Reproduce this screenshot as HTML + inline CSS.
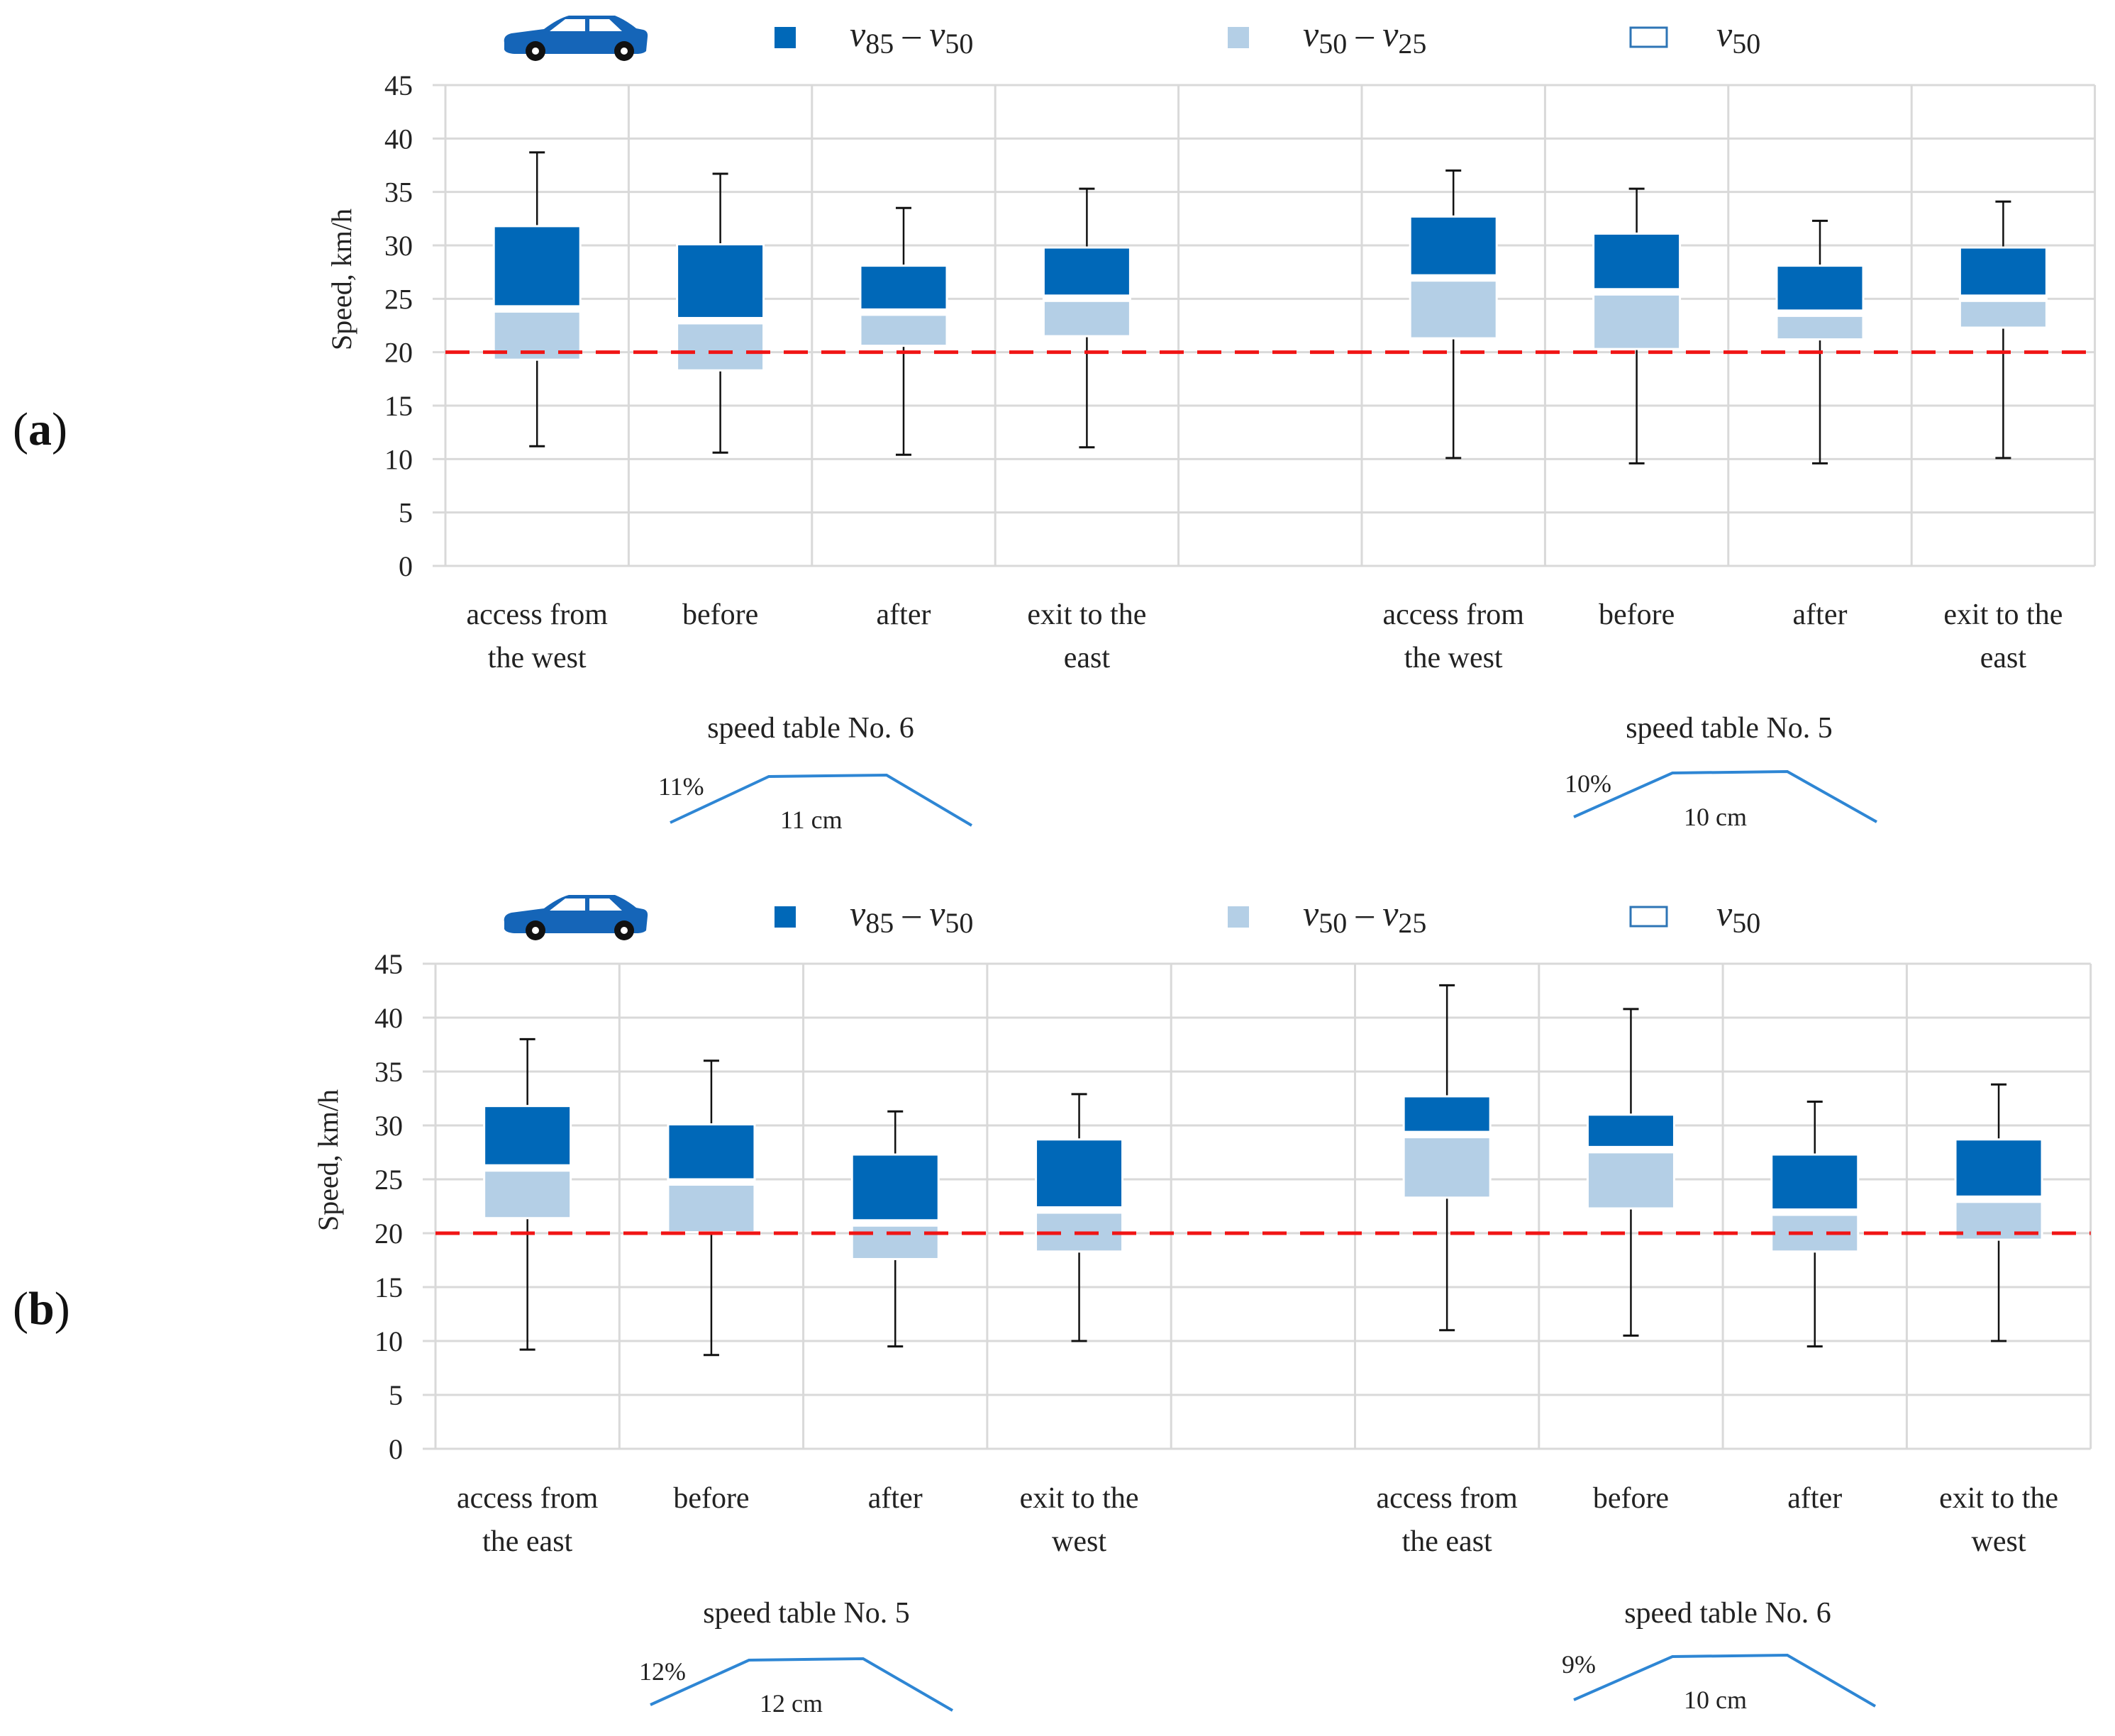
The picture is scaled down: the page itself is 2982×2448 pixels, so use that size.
<!DOCTYPE html>
<html><head><meta charset="utf-8">
<style>
html,body{margin:0;padding:0;background:#fff;}
svg{display:block;font-family:"Liberation Serif",serif;}
</style></head>
<body>
<svg id="chart" width="2982" height="2448" viewBox="0 0 2982 2448" xmlns="http://www.w3.org/2000/svg">
<defs>
<g id="car">
<path d="M4,40 Q2,30 14,27 L60,21 Q80,6 95,2 L160,2 Q175,8 190,20 L200,22 Q207,24 206,32 L204,52 Q200,56 190,56 L18,56 Q6,55 4,50 Z" fill="#1565b8"/>
<path d="M68,24 L90,7 L118,7 L118,24 Z" fill="#fff"/>
<path d="M124,7 L152,7 L170,24 L124,24 Z" fill="#fff"/>
<circle cx="48" cy="52" r="14" fill="#111"/><circle cx="48" cy="52" r="5" fill="#fff"/>
<circle cx="173" cy="52" r="14" fill="#111"/><circle cx="173" cy="52" r="5" fill="#fff"/>
</g>
</defs>
</svg>
<script>
// Panel (a) data — slot indices 0..8 (slot 4 empty)
const catsA = ["access from|the west","before","after","exit to the|east","","access from|the west","before","after","exit to the|east"];
const minA = [11.2,10.6,10.4,11.1,null,10.1,9.6,9.6,10.1];
const maxA = [38.7,36.7,33.5,35.3,null,37.0,35.3,32.3,34.1];
const v85A = [31.8,30.1,28.1,29.8,null,32.7,31.1,28.1,29.8];
const v50A = [24.3,23.2,24.0,25.3,null,27.2,25.9,23.9,25.3];
const v25A = [19.3,18.3,20.6,21.5,null,21.3,20.3,21.2,22.3];
// Panel (b) data
const catsB = ["access from|the east","before","after","exit to the|west","","access from|the east","before","after","exit to the|west"];
const minB = [9.2,8.7,9.5,10.0,null,11.0,10.5,9.5,10.0];
const maxB = [38.0,36.0,31.3,32.9,null,43.0,40.8,32.2,33.8];
const v85B = [31.8,30.1,27.3,28.7,null,32.7,31.0,27.3,28.7];
const v50B = [26.3,25.0,21.2,22.4,null,29.4,28.0,22.2,23.4];
const v25B = [21.4,20.1,17.6,18.3,null,23.3,22.3,18.3,19.4];
const yTicks = [0,5,10,15,20,25,30,35,40,45];
const limitSpeed = 20;

const NS = "http://www.w3.org/2000/svg";
const svg = document.getElementById("chart");
function mk(tag, attrs, parent){
  const e = document.createElementNS(NS, tag);
  for (const k in attrs) e.setAttribute(k, attrs[k]);
  (parent||svg).appendChild(e);
  return e;
}

function panel(cfg){
  const g = mk("g", {});
  
  
  const y = v => cfg.y0 - v*(cfg.y0-cfg.y45)/45;
  const slot = cfg.slot;
  const xc = i => cfg.x0 + slot*(i+0.5);
  const xRight = cfg.x0 + slot*9;
  yTicks.forEach(t=>{
    const l = mk("line",{x1:cfg.x0-18,x2:xRight,y1:y(t),y2:y(t),stroke:"#d9d9d9","stroke-width":3},g);
    
    
    const tx = mk("text",{x:cfg.x0-46,y:y(t)+14,"text-anchor":"end","font-size":40,fill:"#222"},g);
    tx.textContent = t;
    
    
  });
  for (let i=0;i<=9;i++){
    const l = mk("line",{x1:cfg.x0+slot*i,x2:cfg.x0+slot*i,y1:y(45),y2:y(0),stroke:"#d9d9d9","stroke-width":3},g);
    
    
  }
  const bw = 122;
  cfg.cats.forEach((c,i)=>{
    if (cfg.v50[i]!=null){
    const x = xc(i);
    const bg = mk("g",{},g);
    
    
    mk("line",{x1:x,x2:x,y1:y(cfg.max[i]),y2:y(cfg.v85[i]),stroke:"#111","stroke-width":2.5},bg);
    mk("line",{x1:x,x2:x,y1:y(cfg.v25[i]),y2:y(cfg.min[i]),stroke:"#111","stroke-width":2.5},bg);
    mk("line",{x1:x-11,x2:x+11,y1:y(cfg.max[i]),y2:y(cfg.max[i]),stroke:"#111","stroke-width":3},bg);
    mk("line",{x1:x-11,x2:x+11,y1:y(cfg.min[i]),y2:y(cfg.min[i]),stroke:"#111","stroke-width":3},bg);
    const lt = mk("rect",{x:x-bw/2,y:y(cfg.v50[i]),width:bw,height:y(cfg.v25[i])-y(cfg.v50[i]),fill:"#b4cfe6",stroke:"#fff","stroke-width":3},bg);
    
    
    const dk = mk("rect",{x:x-bw/2,y:y(cfg.v85[i]),width:bw,height:y(cfg.v50[i])-y(cfg.v85[i]),fill:"#0068b8",stroke:"#fff","stroke-width":3},bg);
    
    
    mk("rect",{x:x-bw/2,y:y(cfg.v50[i])+1,width:bw,height:8,fill:"#fff"},bg);
    }
    c.split("|").forEach((ln,k)=>{
      if(!ln) return;
      const t = mk("text",{x:xc(i),y:cfg.labY+k*61,"text-anchor":"middle","font-size":42,fill:"#222"},g);
      t.textContent = ln;
      
      
    });
  });
  const lim = mk("line",{x1:cfg.x0,x2:xRight,y1:y(limitSpeed),y2:y(limitSpeed),stroke:"#f01515","stroke-width":5,"stroke-dasharray":"34 19"},g);
  
  
  const at = mk("text",{x:0,y:0,transform:`translate(${cfg.titleX},${(y(0)+y(45))/2 - 65}) rotate(-90)`,"text-anchor":"middle","font-size":40,fill:"#222"},g);
  at.textContent = "Speed, km/h";
  
  
  const pl = mk("text",{x:18,y:cfg.panelY,"font-size":66,fill:"#111"},g);
  pl.innerHTML = '(<tspan font-weight="bold">'+cfg.letter+'</tspan>)';
  
  
  const lg = mk("g",{},g);
  
  
  const car = mk("use",{href:"#car",x:707,y:cfg.legY-20},lg);
  
  
  const items = [[1092,"#0068b8","85","50"],[1731,"#b4cfe6","50","25"]];
  items.forEach(it=>{
    const e = mk("g",{},lg);
    
    
    mk("rect",{x:it[0],y:cfg.legY-2,width:30,height:30,fill:it[1]},e);
    const t = mk("text",{x:it[0]+106,y:cfg.legY+25,"font-size":50,fill:"#222"},e);
    t.innerHTML = '<tspan font-style="italic">v</tspan><tspan font-size="40" dy="10">'+it[2]+'</tspan><tspan dy="-10"> – </tspan><tspan font-style="italic">v</tspan><tspan font-size="40" dy="10">'+it[3]+'</tspan>';
  });
  const e3 = mk("g",{},lg);
  
  
  mk("rect",{x:2299,y:cfg.legY-1,width:51,height:27,fill:"#fff",stroke:"#2e75b6","stroke-width":3},e3);
  const t3 = mk("text",{x:2420,y:cfg.legY+25,"font-size":50,fill:"#222"},e3);
  t3.innerHTML = '<tspan font-style="italic">v</tspan><tspan font-size="40" dy="10">50</tspan>';
  cfg.tables.forEach(tb=>{
    const sg = mk("g",{},g);
    
    
    const tt = mk("text",{x:tb.cx,y:tb.ty,"text-anchor":"middle","font-size":42,fill:"#222"},sg);
    tt.textContent = tb.title;
    mk("polyline",{points:tb.pts,fill:"none",stroke:"#2e86d4","stroke-width":4},sg);
    const p = mk("text",{x:tb.px,y:tb.py,"font-size":36,fill:"#222"},sg);
    p.textContent = tb.pct;
    const h = mk("text",{x:tb.hx,y:tb.hy,"font-size":36,fill:"#222"},sg);
    h.textContent = tb.h;
  });
}

panel({name:"panel-a",letter:"a",x0:628,slot:258.4,y0:798,y45:120,cats:catsA,min:minA,max:maxA,v85:v85A,v50:v50A,v25:v25A,
  labY:880,titleX:495,panelY:627,legY:40,
  tables:[
    {cx:1143,ty:1040,title:"speed table No. 6",pts:"945,1160 1084,1095 1250,1093 1370,1164",pct:"11%",px:928,py:1121,h:"11 cm",hx:1100,hy:1168},
    {cx:2438,ty:1040,title:"speed table No. 5",pts:"2219,1152 2358,1090 2520,1088 2646,1159",pct:"10%",px:2206,py:1117,h:"10 cm",hx:2374,hy:1164}
  ]});
panel({name:"panel-b",letter:"b",x0:614,slot:259.3,y0:2043,y45:1359,cats:catsB,min:minB,max:maxB,v85:v85B,v50:v50B,v25:v25B,
  labY:2126,titleX:476,panelY:1867,legY:1280,
  tables:[
    {cx:1137,ty:2288,title:"speed table No. 5",pts:"917,2404 1056,2341 1217,2339 1343,2412",pct:"12%",px:901,py:2369,h:"12 cm",hx:1071,hy:2414},
    {cx:2436,ty:2288,title:"speed table No. 6",pts:"2219,2397 2358,2336 2520,2334 2644,2406",pct:"9%",px:2202,py:2359,h:"10 cm",hx:2374,hy:2409}
  ]});
</script>
</body></html>
